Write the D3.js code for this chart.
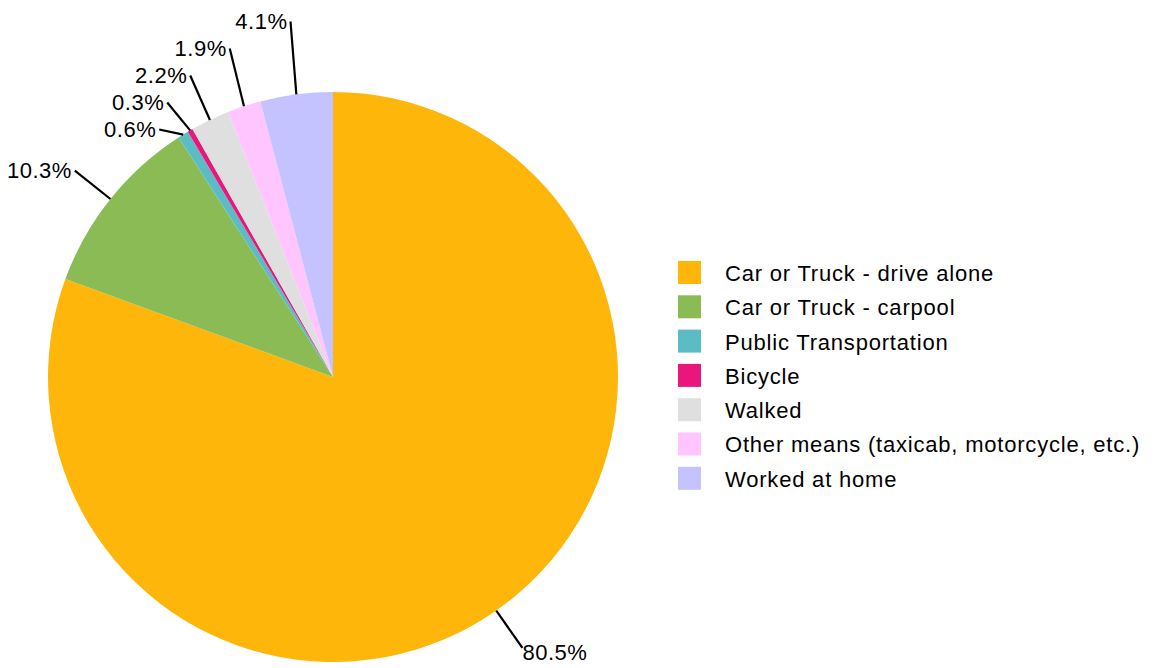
<!DOCTYPE html>
<html>
<head>
<meta charset="utf-8">
<script src="https://cdn.jsdelivr.net/npm/d3@7"></script>
<style>
  body { margin: 0; background: #fff; }
  text { font-family: "Liberation Sans", Arial, sans-serif; }
</style>
</head>
<body>
<div id="chart"></div>
<script>
// commute mode shares (percent)
const categories = [
  "Car or Truck - drive alone",
  "Car or Truck - carpool",
  "Public Transportation",
  "Bicycle",
  "Walked",
  "Other means (taxicab, motorcycle, etc.)",
  "Worked at home"
];
const shares = [80.5, 10.3, 0.6, 0.3, 2.2, 1.9, 4.1];
const colors = ["#FFB60A", "#8BBB54", "#5BBCC6", "#E9177B", "#DFDFDF", "#FFC5FF", "#C4C3FF"];

const w = 1163, h = 668;
const cx = 333, cy = 377, r = 285;
const labelR = r * 1.16;
const gap = 27;

const svg = d3.select("#chart").append("svg")
    .attr("width", w)
    .attr("height", h);

const g = svg.append("g").attr("transform", `translate(${cx},${cy})`);

const pie = d3.pie().sort(null).value(d => d)
    .startAngle(0).endAngle(2 * Math.PI);
const arcs = pie(shares);

const arc = d3.arc().innerRadius(0).outerRadius(r);
const edgeArc = d3.arc().innerRadius(r).outerRadius(r);
const outerArc = d3.arc().innerRadius(labelR).outerRadius(labelR);

g.selectAll("path.slice")
    .data(arcs)
    .enter()
    .append("path")
    .attr("class", "slice")
    .attr("d", arc)
    .attr("fill", (d, i) => colors[i]);

// label positions: start on the radial line, then spread apart vertically
const labels = arcs.map((d, i) => {
  const mid = (d.startAngle + d.endAngle) / 2;
  const p0 = edgeArc.centroid(d);
  const p1 = outerArc.centroid(d);
  return {i, mid, x0: p0[0], y0: p0[1], x: p1[0], y: p1[1], left: mid > Math.PI};
});

function spread(items) {
  items.sort((a, b) => a.y - b.y);
  const clusters = [];
  const span = c => {
    const m = c.sum / c.members.length;
    const top = m - (c.members.length - 1) * gap / 2;
    return {top, bottom: top + (c.members.length - 1) * gap};
  };
  items.forEach(it => {
    clusters.push({members: [it], sum: it.y});
    while (clusters.length > 1) {
      const cur = clusters[clusters.length - 1];
      const prev = clusters[clusters.length - 2];
      if (span(prev).bottom + gap > span(cur).top) {
        prev.members = prev.members.concat(cur.members);
        prev.sum += cur.sum;
        clusters.pop();
      } else break;
    }
  });
  clusters.forEach(c => {
    const s = span(c);
    c.members.forEach((m, k) => { m.y = s.top + k * gap; });
  });
}
spread(labels.filter(l => l.left));
spread(labels.filter(l => !l.left));

const fmt = d3.format(".1f");

g.selectAll("line.leader")
    .data(labels)
    .enter()
    .append("line")
    .attr("class", "leader")
    .attr("x1", d => d.x0)
    .attr("y1", d => d.y0)
    .attr("x2", d => d.x)
    .attr("y2", d => d.y)
    .attr("stroke", "#000")
    .attr("stroke-width", 2.2);

g.selectAll("text.pct")
    .data(labels)
    .enter()
    .append("text")
    .attr("class", "pct")
    .attr("x", d => d.left ? d.x - 3 : d.x)
    .attr("y", d => d.left ? d.y : d.y + 4)
    .attr("dy", "0.35em")
    .attr("text-anchor", d => d.left ? "end" : "start")
    .attr("font-size", "22px")
    .attr("letter-spacing", "0.5px")
    .attr("fill", "#000")
    .text(d => fmt(shares[d.i]) + "%");

// legend
const legend = svg.append("g").attr("transform", "translate(678,261)");
const row = legend.selectAll("g.row")
    .data(categories)
    .enter()
    .append("g")
    .attr("class", "row")
    .attr("transform", (d, i) => `translate(0,${i * 34.3})`);
row.append("rect")
    .attr("width", 23)
    .attr("height", 23)
    .attr("fill", (d, i) => colors[i]);
row.append("text")
    .attr("x", 47)
    .attr("y", 12)
    .attr("dy", "0.36em")
    .attr("font-size", "22px")
    .attr("letter-spacing", "0.8px")
    .attr("fill", "#000")
    .text(d => d);
</script>
</body>
</html>
